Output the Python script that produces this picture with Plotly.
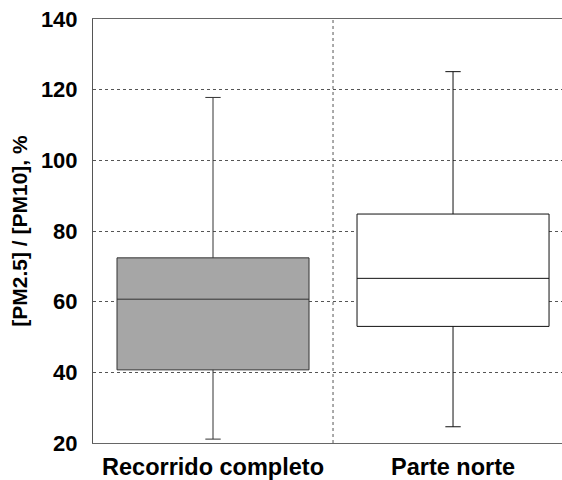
import plotly.graph_objects as go

# Summary statistics of the PM2.5/PM10 ratio (%) for each route section
categories = ["Recorrido completo", "Parte norte"]
lower_whisker = [21.1, 24.6]
q1_values = [40.7, 53.0]
medians = [60.7, 66.6]
q3_values = [72.4, 84.8]
upper_whisker = [117.8, 125.1]
fill_colors = ["#a6a6a6", "#ffffff"]
line_colors = ["#333333", "#111111"]

y_ticks = [20, 40, 60, 80, 100, 120, 140]

font_family = "Liberation Sans, Arial, sans-serif"

fig = go.Figure()
for i, name in enumerate(categories):
    fig.add_trace(go.Box(
        x=[i],
        q1=[q1_values[i]],
        median=[medians[i]],
        q3=[q3_values[i]],
        lowerfence=[lower_whisker[i]],
        upperfence=[upper_whisker[i]],
        name=name,
        width=0.8,
        whiskerwidth=0.08,
        boxpoints=False,
        fillcolor=fill_colors[i],
        line=dict(color=line_colors[i], width=1),
        showlegend=False,
    ))

# dotted separator between the two groups
fig.add_shape(type="line", xref="x", yref="paper", x0=0.5, x1=0.5, y0=0, y1=1,
              line=dict(color="#555555", width=1, dash="dot"), layer="below")

fig.update_layout(
    width=562, height=480,
    margin=dict(l=93, r=0, t=19, b=33),
    paper_bgcolor="white", plot_bgcolor="white",
    font=dict(family=font_family, color="black"),
)
fig.update_xaxes(
    range=[-0.5, 1.454],
    tickmode="array", tickvals=list(range(len(categories))),
    ticktext=[f"<b>{c}</b>" for c in categories],
    tickfont=dict(size=23.5, family=font_family, color="black"),
    showgrid=False, zeroline=False,
    showline=True, mirror=True, linecolor="#666666", linewidth=1,
    ticks="", ticklabelstandoff=3,
)
fig.update_yaxes(
    range=[20, 140],
    tickmode="array", tickvals=y_ticks,
    ticktext=[f"<b>{v}</b>" for v in y_ticks],
    tickfont=dict(size=22, family=font_family, color="black"),
    showgrid=True, gridcolor="#555555", griddash="dot", gridwidth=1,
    zeroline=False,
    showline=True, mirror=False, linecolor="#555555", linewidth=1,
    ticks="", ticklabelstandoff=10,
    title=dict(text="<b>[PM2.5] / [PM10], %</b>",
               font=dict(size=21, family=font_family, color="black"),
               standoff=7),
)

fig.write_html("out.html")
